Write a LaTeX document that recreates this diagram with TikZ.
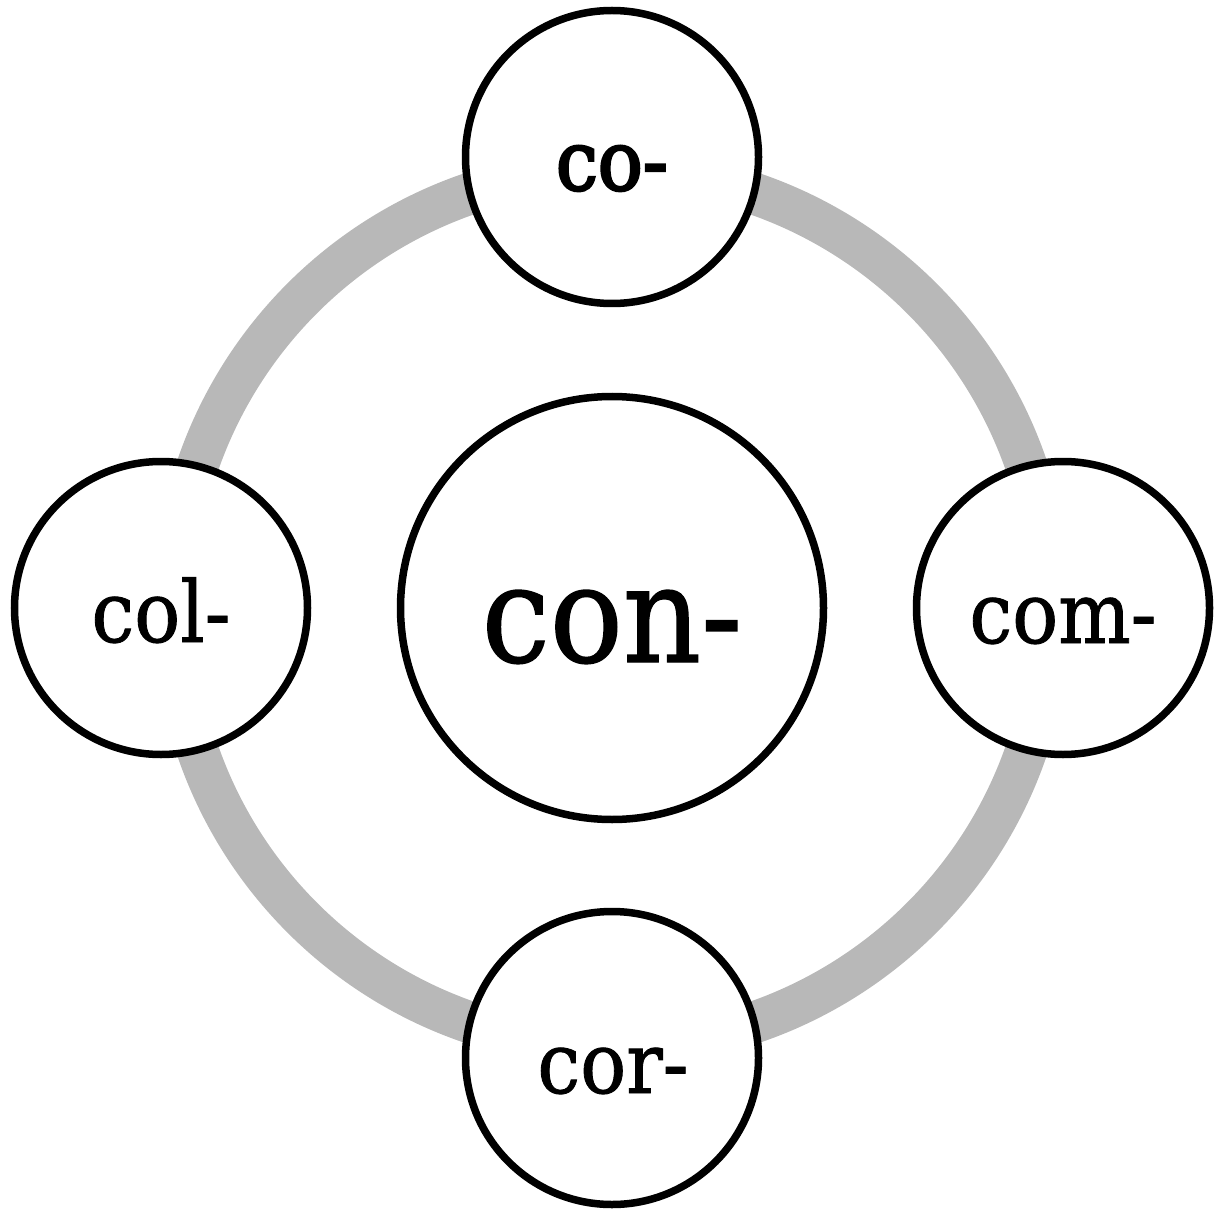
\documentclass[tikz,border=0pt]{standalone}
\usepackage{fontspec}
\setmainfont{DejaVu Serif}[FakeStretch=0.9, FakeBold=1]
\newfontfamily\heavyfont{DejaVu Serif}[FakeStretch=0.9, FakeBold=3]
\definecolor{ringgray}{HTML}{B8B8B8}
\tikzset{
  ringpath/.style={draw=ringgray, line width=42pt},
  bigcirc/.style={circle, draw=black, fill=white, line width=7.5pt, minimum size=423pt, inner sep=0pt},
  smallcirc/.style={circle, draw=black, fill=white, line width=7.5pt, minimum size=293pt, inner sep=0pt},
  bigtext/.style={anchor=base, inner sep=0pt, font=\fontsize{135}{140}\selectfont},
  smalltext/.style={anchor=base, inner sep=0pt, font=\fontsize{85}{90}\selectfont},
}
\begin{document}
\begin{tikzpicture}[x=1pt,y=-1pt]
\useasboundingbox (0,0) rectangle (1215,1214);
\coordinate (mid) at (612,608);
\draw[ringpath] (mid) circle[radius=438pt];
\node[bigcirc] (con) at (mid) {};
\node[smallcirc] (co) at (612,157) {};
\node[smallcirc] (col) at (161,608) {};
\node[smallcirc] (com) at (1063,608) {};
\node[smallcirc] (cor) at (612,1058) {};
\node[bigtext] (tcon) at (612,662) {con-};
\node[smalltext, font=\fontsize{83}{90}\selectfont\heavyfont] (tco) at (612,190) {co-};
\node[smalltext] (tcol) at (161,642) {col-};
\node[smalltext] (tcom) at (1063,643) {com-};
\node[smalltext] (tcor) at (613,1093) {cor-};
\end{tikzpicture}
\end{document}
